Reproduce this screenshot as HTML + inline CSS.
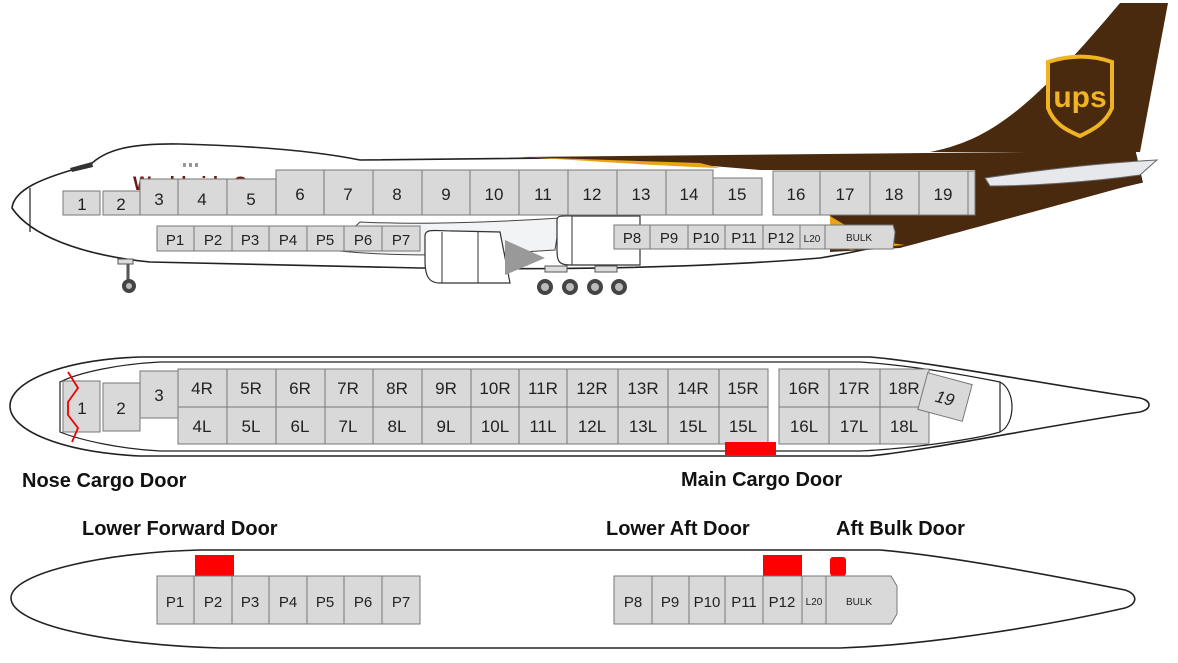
<!DOCTYPE html>
<html><head><meta charset="utf-8"><style>
html,body{margin:0;padding:0;background:#fff;}
svg{display:block;}
text{font-family:"Liberation Sans","DejaVu Sans",sans-serif;fill:#222;}
.b{fill:#d9d9d9;stroke:#777;stroke-width:1;}
.n{font-size:17px;text-anchor:middle;}
.m{font-size:17px;text-anchor:middle;}
.p{font-size:15px;text-anchor:middle;}
.lab{font-size:20px;font-weight:bold;fill:#111;}
.ol{fill:none;stroke:#222;stroke-width:1.6;}
</style></head><body>
<svg width="1178" height="663" viewBox="0 0 1178 663" xmlns="http://www.w3.org/2000/svg">
<!-- ===== TOP SIDE VIEW ===== -->
<path d="M12,208 C14,190 40,178 90,165 C105,150 130,143 180,144 C260,146 320,152 360,160 L1135,152 L1142,182 C1000,215 900,245 820,258 C700,268 560,270 420,268 L150,262 C80,255 30,235 12,208 Z" fill="#fff" stroke="#222" stroke-width="1.6"/>
<path d="M520,157 L1135,151 L1142,182 C1040,210 960,232 900,248 L830,252 L830,215 L975,215 L975,170 L760,170 L700,165 Z" fill="#4a2a0f"/>
<path d="M520,157 C580,160 640,165 720,168 L700,163 Z" fill="#e8a317"/>
<path d="M830,216 L870,240 L905,245 L850,250 L830,240 Z" fill="#e8a317"/>
<path d="M930,152 C990,140 1030,110 1120,3 L1168,3 L1140,152 Z" fill="#4a2a0f"/>
<path d="M985,178 C1040,170 1100,163 1157,160 L1140,175 C1090,182 1030,186 990,186 Z" fill="#e6e8ec" stroke="#666" stroke-width="1"/>
<path d="M1048,62 C1070,55 1092,55 1112,62 L1112,108 C1105,124 1092,130 1080,136 C1066,130 1054,124 1048,108 Z" fill="#4a2a0f" stroke="#f0b323" stroke-width="4"/>
<text x="1080" y="107" style="font-size:30px;font-weight:bold;fill:#f0b323;text-anchor:middle;">ups</text>
<text x="133" y="190" style="font-size:19px;font-weight:bold;fill:#6b1a1a;">Worldwide S</text>
<rect x="183" y="163" width="3" height="4" fill="#999"/><rect x="189" y="163" width="3" height="4" fill="#999"/><rect x="195" y="163" width="3" height="4" fill="#999"/>
<path d="M70,168 L92,162 L93,167 L72,172 Z" fill="#333"/>
<line x1="30" y1="188" x2="30" y2="232" stroke="#222" stroke-width="1.2"/>
<path d="M360,222 C420,225 500,222 560,218 L555,250 C480,255 400,258 330,250 Z" fill="#f2f3f5" stroke="#444" stroke-width="1"/>
<path d="M425,236 C425,228 435,231 455,231 L500,232 L510,283 L440,283 C428,283 425,275 425,260 Z" fill="#fff" stroke="#333" stroke-width="1.2"/>
<line x1="442" y1="232" x2="442" y2="283" stroke="#333"/>
<line x1="478" y1="232" x2="478" y2="283" stroke="#333"/>
<path d="M505,240 L545,258 L505,275 Z" fill="#999"/>
<path d="M557,220 C557,215 562,216 575,216 L640,216 L640,265 L570,265 C558,265 557,260 557,250 Z" fill="#fff" stroke="#333" stroke-width="1.2"/>
<line x1="572" y1="216" x2="572" y2="265" stroke="#333"/>
<line x1="128" y1="262" x2="128" y2="280" stroke="#555" stroke-width="3"/>
<rect x="118" y="259" width="15" height="5" fill="#ddd" stroke="#555"/>
<circle cx="129" cy="286" r="7" fill="#444"/><circle cx="129" cy="286" r="3" fill="#bbb"/>
<g fill="#444"><circle cx="545" cy="287" r="8"/><circle cx="570" cy="287" r="8"/><circle cx="595" cy="287" r="8"/><circle cx="619" cy="287" r="8"/></g>
<g fill="#bbb"><circle cx="545" cy="287" r="4"/><circle cx="570" cy="287" r="4"/><circle cx="595" cy="287" r="4"/><circle cx="619" cy="287" r="4"/></g>
<rect x="545" y="266" width="22" height="6" fill="#ddd" stroke="#555"/><rect x="595" y="266" width="22" height="6" fill="#ddd" stroke="#555"/>
<g class="b">
<rect x="63" y="191" width="37" height="24"/><rect x="103" y="191" width="37" height="24"/>
<rect x="140" y="179" width="38" height="36"/><rect x="178" y="179" width="49" height="36"/><rect x="227" y="179" width="49" height="36"/>
<rect x="276" y="170" width="48" height="45"/><rect x="324" y="170" width="49" height="45"/><rect x="373" y="170" width="49" height="45"/>
<rect x="422" y="170" width="48" height="45"/><rect x="470" y="170" width="49" height="45"/><rect x="519" y="170" width="49" height="45"/>
<rect x="568" y="170" width="49" height="45"/><rect x="617" y="170" width="49" height="45"/><rect x="666" y="170" width="47" height="45"/>
<rect x="713" y="178" width="49" height="37"/>
<rect x="773" y="171" width="47" height="44"/><rect x="820" y="171" width="50" height="44"/><rect x="870" y="171" width="49" height="44"/><rect x="919" y="171" width="49" height="44"/><rect x="968" y="171" width="7" height="44"/>
</g>
<g class="n">
<text x="82" y="210">1</text><text x="121" y="210">2</text><text x="159" y="205">3</text><text x="202" y="205">4</text><text x="251" y="205">5</text>
<text x="300" y="200">6</text><text x="348" y="200">7</text><text x="397" y="200">8</text><text x="446" y="200">9</text><text x="494" y="200">10</text>
<text x="543" y="200">11</text><text x="592" y="200">12</text><text x="641" y="200">13</text><text x="689" y="200">14</text><text x="737" y="200">15</text>
<text x="796" y="200">16</text><text x="845" y="200">17</text><text x="894" y="200">18</text><text x="943" y="200">19</text>
</g>
<g class="b">
<rect x="157" y="226" width="37" height="25"/><rect x="194" y="226" width="38" height="25"/><rect x="232" y="226" width="37" height="25"/><rect x="269" y="226" width="38" height="25"/><rect x="307" y="226" width="37" height="25"/><rect x="344" y="226" width="38" height="25"/><rect x="382" y="226" width="38" height="25"/>
<rect x="614" y="225" width="36" height="24"/><rect x="650" y="225" width="38" height="24"/><rect x="688" y="225" width="37" height="24"/><rect x="725" y="225" width="38" height="24"/><rect x="763" y="225" width="37" height="24"/><rect x="800" y="225" width="25" height="24"/>
<path d="M825,225 L893,225 L895,232 L893,249 L825,249 Z"/>
</g>
<g class="p">
<text x="175" y="245">P1</text><text x="213" y="245">P2</text><text x="250" y="245">P3</text><text x="288" y="245">P4</text><text x="325" y="245">P5</text><text x="363" y="245">P6</text><text x="401" y="245">P7</text>
<text x="632" y="243">P8</text><text x="669" y="243">P9</text><text x="706" y="243">P10</text><text x="744" y="243">P11</text><text x="781" y="243">P12</text>
<text x="812" y="242" style="font-size:10px">L20</text><text x="859" y="241" style="font-size:10px">BULK</text>
</g>

<!-- ===== MIDDLE PLAN VIEW ===== -->
<path class="ol" d="M140,357 L870,357 C930,362 1050,385 1140,398 C1152,401 1152,409 1140,412 C1050,425 930,450 870,456 L140,456 C60,452 10,430 10,406 C10,382 60,360 140,357 Z"/>
<path class="ol" style="stroke-width:1.2" d="M160,362 L860,362 C920,366 980,378 1000,382 C1016,390 1016,424 1000,432 C980,438 920,448 860,451 L160,451 C120,449 80,440 60,432 L60,382 C80,372 120,364 160,362 Z"/>
<line x1="1000" y1="382" x2="1000" y2="432" stroke="#222" stroke-width="1.2"/>
<g class="b">
<rect x="63" y="381" width="37" height="51"/><rect x="103" y="383" width="37" height="48"/><rect x="140" y="371" width="38" height="47"/>
</g>
<path d="M68,372 L78,388 L68,402 L68,415 L78,428 L72,442" fill="none" stroke="#e00" stroke-width="1.8"/>
<g class="b">
<rect x="178" y="369" width="49" height="38"/><rect x="227" y="369" width="49" height="38"/><rect x="276" y="369" width="49" height="38"/><rect x="325" y="369" width="48" height="38"/><rect x="373" y="369" width="49" height="38"/><rect x="422" y="369" width="49" height="38"/><rect x="471" y="369" width="48" height="38"/><rect x="519" y="369" width="48" height="38"/><rect x="567" y="369" width="51" height="38"/><rect x="618" y="369" width="50" height="38"/><rect x="668" y="369" width="51" height="38"/><rect x="719" y="369" width="49" height="38"/>
<rect x="178" y="407" width="49" height="37"/><rect x="227" y="407" width="49" height="37"/><rect x="276" y="407" width="49" height="37"/><rect x="325" y="407" width="48" height="37"/><rect x="373" y="407" width="49" height="37"/><rect x="422" y="407" width="49" height="37"/><rect x="471" y="407" width="48" height="37"/><rect x="519" y="407" width="48" height="37"/><rect x="567" y="407" width="51" height="37"/><rect x="618" y="407" width="50" height="37"/><rect x="668" y="407" width="51" height="37"/><rect x="719" y="407" width="49" height="37"/>
<rect x="779" y="369" width="50" height="38"/><rect x="829" y="369" width="51" height="38"/><rect x="880" y="369" width="49" height="38"/>
<rect x="779" y="407" width="50" height="37"/><rect x="829" y="407" width="51" height="37"/><rect x="880" y="407" width="49" height="37"/>
<rect x="922" y="378" width="46" height="38" transform="rotate(15 945 397)"/>
</g>
<rect x="725" y="442" width="51" height="13" fill="#f00"/>
<g class="m">
<text x="82" y="414">1</text><text x="121" y="414">2</text><text x="159" y="401">3</text>
<text x="202" y="394">4R</text><text x="251" y="394">5R</text><text x="300" y="394">6R</text><text x="348" y="394">7R</text><text x="397" y="394">8R</text><text x="446" y="394">9R</text><text x="495" y="394">10R</text><text x="543" y="394">11R</text><text x="592" y="394">12R</text><text x="643" y="394">13R</text><text x="693" y="394">14R</text><text x="743" y="394">15R</text>
<text x="804" y="394">16R</text><text x="854" y="394">17R</text><text x="904" y="394">18R</text>
<text x="202" y="432">4L</text><text x="251" y="432">5L</text><text x="300" y="432">6L</text><text x="348" y="432">7L</text><text x="397" y="432">8L</text><text x="446" y="432">9L</text><text x="495" y="432">10L</text><text x="543" y="432">11L</text><text x="592" y="432">12L</text><text x="643" y="432">13L</text><text x="693" y="432">15L</text><text x="743" y="432">15L</text>
<text x="804" y="432">16L</text><text x="854" y="432">17L</text><text x="904" y="432">18L</text>
<text x="945" y="404" transform="rotate(15 945 398)" style="font-style:italic">19</text>
</g>
<text class="lab" x="22" y="487">Nose Cargo Door</text>
<text class="lab" x="681" y="486">Main Cargo Door</text>
<text class="lab" x="82" y="535">Lower Forward Door</text>
<text class="lab" x="606" y="535">Lower Aft Door</text>
<text class="lab" x="836" y="535">Aft Bulk Door</text>

<!-- ===== BOTTOM VIEW ===== -->
<path class="ol" d="M200,550 L880,550 C950,556 1050,575 1125,590 C1138,594 1138,604 1125,608 C1050,625 930,645 840,648 L220,648 C110,645 11,625 11,598 C11,572 110,552 200,550 Z"/>
<rect x="195" y="555" width="39" height="21" fill="#f00"/>
<rect x="763" y="555" width="39" height="21" fill="#f00"/>
<rect x="830" y="557" width="16" height="19" rx="3" fill="#f00"/>
<g class="b">
<rect x="157" y="576" width="37" height="48"/><rect x="194" y="576" width="38" height="48"/><rect x="232" y="576" width="37" height="48"/><rect x="269" y="576" width="38" height="48"/><rect x="307" y="576" width="37" height="48"/><rect x="344" y="576" width="38" height="48"/><rect x="382" y="576" width="38" height="48"/>
<rect x="614" y="576" width="38" height="48"/><rect x="652" y="576" width="37" height="48"/><rect x="689" y="576" width="36" height="48"/><rect x="725" y="576" width="38" height="48"/><rect x="763" y="576" width="39" height="48"/><rect x="802" y="576" width="24" height="48"/>
<path d="M826,576 L891,576 L897,586 L897,614 L891,624 L826,624 Z"/>
</g>
<g class="p">
<text x="175" y="607">P1</text><text x="213" y="607">P2</text><text x="250" y="607">P3</text><text x="288" y="607">P4</text><text x="325" y="607">P5</text><text x="363" y="607">P6</text><text x="401" y="607">P7</text>
<text x="633" y="607">P8</text><text x="670" y="607">P9</text><text x="707" y="607">P10</text><text x="744" y="607">P11</text><text x="782" y="607">P12</text>
<text x="814" y="605" style="font-size:10px">L20</text><text x="859" y="605" style="font-size:10px">BULK</text>
</g>
</svg>
</body></html>
